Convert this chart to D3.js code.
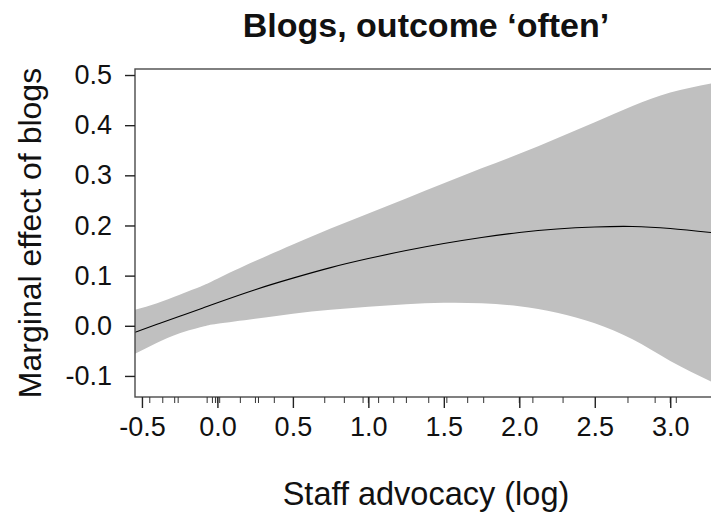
<!DOCTYPE html>
<html>
<head>
<meta charset="utf-8">
<script src="https://cdn.jsdelivr.net/npm/d3@7"></script>
<style>
  body { margin: 0; background: #fff; }
  svg { display: block; font-family: "Liberation Sans", Arial, sans-serif; }
</style>
</head>
<body>
<svg id="chart" width="711" height="517"></svg>
<script>
// values
var xs    = [-0.546, -0.4, -0.25, -0.1, 0.0, 0.25, 0.5, 0.75, 1.0, 1.25, 1.5, 1.75, 2.0, 2.25, 2.5, 2.75, 3.0, 3.27];
var est   = [-0.013, 0.003, 0.019, 0.035, 0.046, 0.072, 0.095, 0.116, 0.134, 0.15, 0.164, 0.176, 0.186, 0.193, 0.197, 0.198, 0.194, 0.186];
var upper = [0.032, 0.045, 0.062, 0.08, 0.094, 0.129, 0.162, 0.194, 0.224, 0.254, 0.284, 0.314, 0.343, 0.374, 0.406, 0.438, 0.465, 0.483];
var lower = [-0.056, -0.034, -0.015, -0.002, 0.004, 0.014, 0.024, 0.032, 0.038, 0.043, 0.046, 0.045, 0.039, 0.026, 0.005, -0.027, -0.07, -0.111];
var rugX  = [-0.448, -0.362, -0.283, -0.26, -0.068, -0.033, -0.013, 0.0, 0.015, 0.152, 0.252, 0.272, 0.377,
             0.711, 0.841, 0.965, 1.0, 1.068, 1.168, 1.252, 1.40, 1.52, 1.658, 1.764, 2.0, 2.09, 2.29, 2.72, 2.90, 3.0, 3.04];
var xTicks = [-0.5, 0.0, 0.5, 1.0, 1.5, 2.0, 2.5, 3.0];
var yTicks = [-0.1, 0.0, 0.1, 0.2, 0.3, 0.4, 0.5];

var plotLeft = 135, plotTop = 69, plotBottom = 397, plotRight = 711;
var plotMid = 426; // R centres the titles on the full plot region, which runs a bit past the picture

var svg = d3.select('#chart');

var x = d3.scaleLinear().domain([-0.546, 3.27]).range([plotLeft, plotRight]);
var y = d3.scaleLinear().domain([-0.142, 0.512]).range([plotBottom, plotTop]);

var rows = xs.map((d, i) => ({x: d, est: est[i], lo: lower[i], hi: upper[i]}));

svg.append('clipPath').attr('id', 'clip')
    .append('rect')
    .attr('x', plotLeft).attr('y', plotTop)
    .attr('width', plotRight - plotLeft).attr('height', plotBottom - plotTop);

var plot = svg.append('g').attr('clip-path', 'url(#clip)');

// confidence band
plot.append('path')
    .datum(rows)
    .attr('fill', '#c0c0c0')
    .attr('d', d3.area()
        .x((d) => x(d.x))
        .y0((d) => y(d.lo))
        .y1((d) => y(d.hi))
        .curve(d3.curveNatural));

// marginal effect line
plot.append('path')
    .datum(rows)
    .attr('fill', 'none')
    .attr('stroke', '#000')
    .attr('stroke-width', 1.1)
    .attr('d', d3.line()
        .x((d) => x(d.x))
        .y((d) => y(d.est))
        .curve(d3.curveNatural));

// box (right side runs off the picture)
svg.append('rect')
    .attr('x', plotLeft).attr('y', plotTop)
    .attr('width', plotRight - plotLeft + 20).attr('height', plotBottom - plotTop)
    .attr('fill', 'none')
    .attr('stroke', '#4a4a4a')
    .attr('stroke-width', 1.4);

// rug
svg.append('g').selectAll('line')
    .data(rugX)
    .enter()
    .append('line')
    .attr('x1', (d) => x(d)).attr('x2', (d) => x(d))
    .attr('y1', plotBottom).attr('y2', plotBottom + 6)
    .attr('stroke', '#333')
    .attr('stroke-width', 1);

var fmt = (d) => d3.format('.1f')(d).replace('\u2212', '-');

// x axis
var xAxis = svg.append('g')
    .attr('transform', `translate(0,${plotBottom})`)
    .call(d3.axisBottom(x).tickValues(xTicks).tickFormat(fmt).tickSize(11).tickPadding(9));
xAxis.select('.domain').remove();
xAxis.selectAll('line').attr('stroke', '#222').attr('stroke-width', 1.4);
xAxis.selectAll('text').attr('font-size', 27).attr('fill', '#111')
    .attr('font-family', '"Liberation Sans", Arial, sans-serif');

// y axis
var yAxis = svg.append('g')
    .attr('transform', `translate(${plotLeft},0)`)
    .call(d3.axisLeft(y).tickValues(yTicks).tickFormat(fmt).tickSize(10).tickPadding(13));
yAxis.select('.domain').remove();
yAxis.selectAll('line').attr('stroke', '#222').attr('stroke-width', 1.4);
yAxis.selectAll('text').attr('font-size', 27).attr('fill', '#111')
    .attr('font-family', '"Liberation Sans", Arial, sans-serif');

// titles
svg.append('text')
    .attr('x', plotMid).attr('y', 37)
    .attr('text-anchor', 'middle')
    .attr('font-size', 34)
    .attr('font-weight', 'bold')
    .attr('fill', '#111')
    .text('Blogs, outcome \u2018often\u2019');

svg.append('text')
    .attr('x', plotMid).attr('y', 505)
    .attr('text-anchor', 'middle')
    .attr('font-size', 32.5)
    .attr('fill', '#111')
    .text('Staff advocacy (log)');

svg.append('text')
    .attr('transform', 'translate(41,233)rotate(-90)')
    .attr('text-anchor', 'middle')
    .attr('font-size', 32)
    .attr('fill', '#111')
    .text('Marginal effect of blogs');
</script>
</body>
</html>
